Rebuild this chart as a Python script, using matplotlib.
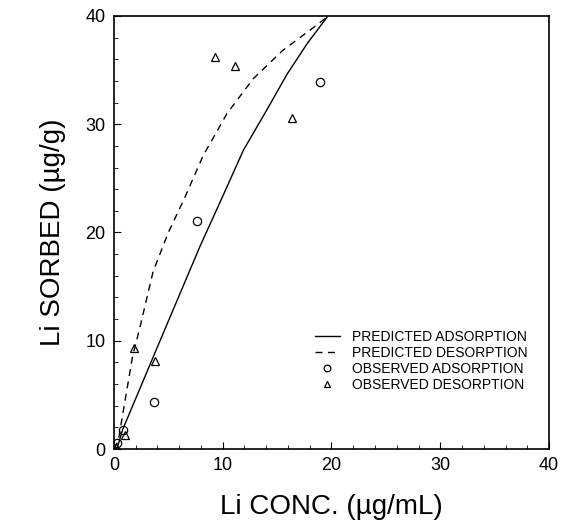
import matplotlib.pyplot as plt
from matplotlib.ticker import MultipleLocator

plt.rcParams['font.family'] = ['Liberation Sans', 'DejaVu Sans']

# predicted curves
x_pred_ads = [0.0, 0.3, 0.8, 3.9, 7.9, 9.8, 11.9, 14.1, 15.9, 17.8, 19.6]
y_pred_ads = [0.0, 0.1, 1.8, 9.2, 18.7, 22.9, 27.6, 31.4, 34.6, 37.5, 39.9]

x_pred_des = [0.0, 0.4, 1.7, 2.4, 3.6, 5.0, 6.5, 8.2, 10.4, 12.8, 15.5, 18.3, 19.6]
y_pred_des = [0.0, 0.8, 8.5, 11.3, 16.4, 20.0, 23.2, 27.1, 31.0, 34.2, 36.8, 38.9, 39.9]

# observed points
x_obs_ads = [0.3, 0.8, 3.7, 7.6, 18.9]
y_obs_ads = [0.6, 1.8, 4.3, 21.1, 33.9]

x_obs_des = [0.2, 1.0, 1.8, 3.8, 9.3, 11.1, 16.4]
y_obs_des = [0.2, 1.3, 9.3, 8.1, 36.2, 35.4, 30.6]

fig = plt.figure(figsize=(5.71, 5.32), dpi=100)
ax = fig.add_axes([0.1996, 0.156, 0.7619, 0.814])

ax.plot(x_pred_ads, y_pred_ads, color='black', lw=1.0, ls='-', label='PREDICTED ADSORPTION')
ax.plot(x_pred_des, y_pred_des, color='black', lw=1.0, ls=(0, (5, 4)), label='PREDICTED DESORPTION')
ax.plot(x_obs_ads, y_obs_ads, ls='none', marker='o', ms=6, mfc='none', mec='black', mew=0.9,
        label='OBSERVED ADSORPTION')
ax.plot(x_obs_des, y_obs_des, ls='none', marker='^', ms=5.7, mfc='none', mec='black', mew=0.9,
        label='OBSERVED DESORPTION')

ax.set_xlim(0, 40)
ax.set_ylim(0, 40)
ax.xaxis.set_major_locator(MultipleLocator(10))
ax.yaxis.set_major_locator(MultipleLocator(10))
ax.xaxis.set_minor_locator(MultipleLocator(2))
ax.yaxis.set_minor_locator(MultipleLocator(2))
ax.tick_params(which='both', direction='in', labelsize=13, top=False, right=False)
ax.tick_params(which='major', length=5, pad=6)
ax.tick_params(which='minor', length=3)

for s in ax.spines.values():
    s.set_linewidth(1.2)

ax.set_xlabel('Li CONC. (\u00b5g/mL)', fontsize=20, labelpad=14)
ax.set_ylabel('Li SORBED (\u00b5g/g)', fontsize=20, labelpad=14)

leg = ax.legend(loc='upper left', frameon=False, fontsize=10, handlelength=1.8,
                handletextpad=0.9, labelspacing=0.15, borderpad=0, borderaxespad=0,
                bbox_to_anchor=(0.462, 0.275), markerscale=0.8)

plt.savefig('out.png', dpi=100)
